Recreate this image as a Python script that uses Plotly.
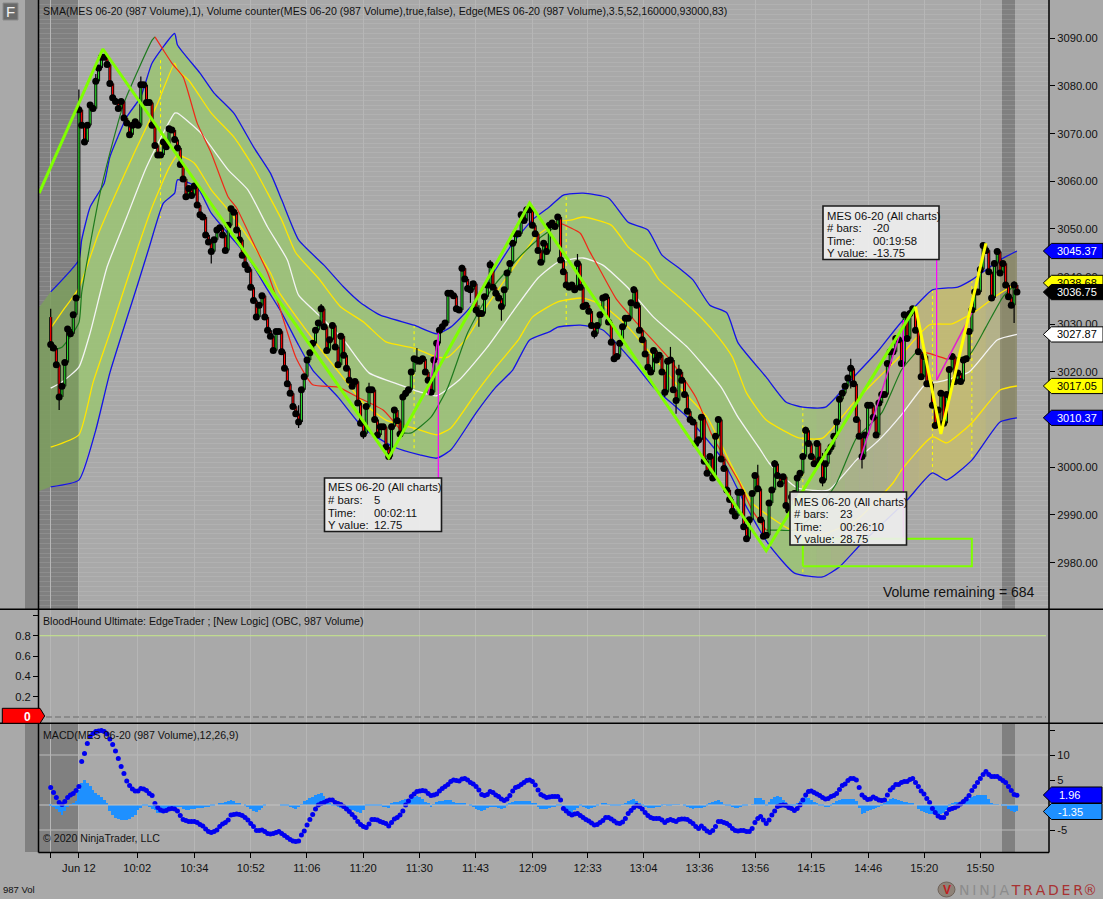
import numpy as np
import plotly.graph_objects as go

# ---------- bar data (volume bars, index 0..343) ----------
first_open = 3031.5
closes = [3025.75,3025,3021.5,3014.75,3017,3022,3029,3028,3032,3035.5,3075,3071.75,3068.25,3071.75,3076,3075.25,3081,3083.75,3086,3086,
3084.5,3080.5,3077.5,3076.75,3075.25,3076.75,3073.25,3072.25,3069.75,3071.75,3072.5,3071.75,3080.25,3080.25,3076.5,3076.5,3071.75,3067.5,3065.5,3065.5,
3068.25,3067.25,3071,3070.75,3068.75,3067,3063.5,3060.5,3056.75,3058.5,3057,3059,3055,3053,3052.5,3048.75,3047.25,3045.25,3047.75,3049.75,
3050.25,3048.75,3045.5,3050.75,3054.25,3053.5,3049.75,3047.75,3044.5,3042.5,3041.5,3037.75,3035,3031.5,3034,3036,3031.5,3028.75,3027.5,3024.5,
3028.5,3028.5,3024.25,3020.75,3017.5,3015.5,3012.75,3011.25,3009.5,3016.25,3019,3022.5,3024,3026,3028.75,3030.25,3033.25,3029.5,3024.5,3026.75,
3029.75,3025.25,3021.5,3027.5,3023.5,3020.75,3018.25,3017,3018,3013.5,3009.25,3007,3012.75,3016.25,3016.25,3010,3006.75,3008.5,3008.5,3004.25,
3002.25,3008.5,3012,3009.75,3007,3014.75,3015.5,3016.25,3020,3022.75,3022.5,3022.25,3022.75,3020,3018.25,3015.75,3022.5,3026,3028.75,3029.5,
3030.25,3036.5,3036.5,3036,3033.25,3033,3041.75,3039.5,3037.5,3037.25,3038.5,3033,3032.25,3032.25,3035.75,3038.25,3042.5,3037.75,3036.5,3035.5,
3033.75,3037.25,3040.75,3042.75,3047,3049,3049,3053,3051.75,3054,3054,3050.75,3049,3045.5,3043,3047,3045.25,3050.75,3051.25,3050.5,
3052.5,3043.5,3041,3038.25,3037.75,3038.25,3037.25,3042.75,3037.75,3033.75,3034,3032.75,3029.75,3028,3029.75,3032,3035.5,3035.75,3030.5,3026.25,
3022.75,3023.25,3026,3029.5,3031.25,3031.25,3034.5,3037.25,3034,3028.75,3026.75,3023.75,3021,3020,3024.5,3022.5,3023.5,3020,3015.75,3022.25,
3022.5,3016.25,3014,3020,3018.25,3015.25,3011.75,3010,3009.5,3005,3005.75,3010.5,3001.25,2998.75,3002.25,2997.75,3006.5,3010,3001.75,2999.75,
2995.25,2993.25,2990.75,2989.75,2994.75,2994.75,2987.5,2985,2989,2994.5,2998.25,2995.5,2989,2985.5,2985.75,2992.5,2995.25,3000.75,2998.25,2996.5,
2998,2992,2991,2993.75,2994.5,2997.75,2998.75,3002.25,3007.75,3005,3002.25,3000.75,3005,3001.5,2997.25,3000.75,3003.25,3004.25,3006.5,3009.5,
3014.25,3015.5,3017,3018.75,3020.75,3017.5,3010,3006.5,3002.25,3006.75,3013,3013,3010.5,3006.75,3013.5,3015.25,3015.25,3021.75,3024.25,3024.25,
3027,3026.75,3021.75,3032,3027,3032.25,3033.25,3028.75,3024.25,3019,3023.25,3017.5,3017.5,3013,3008.75,3012,3015.5,3009.25,3015.25,3020.5,
3023.25,3018,3019.75,3018,3022.5,3022.75,3028.5,3033,3036.75,3036.75,3041.5,3046.5,3045.5,3041,3035.5,3042.75,3045.25,3040.75,3042.75,3038.25,
3035.75,3034,3038.25,3036.75]
wick_bars = [0,3,10,16,32,57,88,96,111,113,130,146,149,152,156,160,170,187,193,207,218,220,222,223,237,251,257,268,274,284,288,316,331,336,342]
wick_highs = [3033.25,3017,3079.25,3082.5,3082,3047.75,3013,3034.25,3009,3017.75,3025,3042.5,3039,3034,3043.5,3036,3055.25,3044.75,3030,3038,3018,3025.25,3016,3021.5,3010.5,3000.5,3001.5,3008.5,3003,3022.75,3004,3012,3047,3045.6,3039]
wick_lows = [3024.5,3012,3035.5,3079,3071.5,3042.75,3008.25,3029.5,3006,3012.75,3021.5,3039,3034.5,3029.5,3037.5,3030.75,3050.75,3037.75,3027,3034,3014.75,3022,3011.25,3018,3006.5,2995,2998,3005,2996,3016.5,2999.75,3008.5,3041.5,3040.75,3030.25]

# ---------- band lines (bar index / price) ----------
blue_up_x = [0,10,11,14,19,21,27,32,36,44,45,53,58,65,72,78,82,88,97,104,110,117,129,137,142,149,156,164,171,177,182,189,198,205,212,217,223,228,234,240,244,254,261,267,275,285,294,301,313,322,327,337,343]
blue_up_y = [3036.8,3043.5,3047.7,3054.6,3059.6,3065.1,3073.5,3077.7,3084.8,3091,3088.6,3082.7,3078.5,3074.3,3067.2,3061.7,3056.1,3047.7,3042.4,3037.8,3034.5,3031.9,3029.8,3028,3029.4,3033.6,3039.7,3047,3051.9,3054.6,3057.1,3057.5,3056.5,3051.4,3049.8,3044.5,3041.8,3039.3,3034,3032.4,3026.1,3018.9,3013.7,3012.6,3012.6,3018.9,3024.6,3029.8,3037.2,3037.8,3039.3,3043.5,3045.37]
yel_up_x = [0,4,10,17,29,38,44,45,49,57,65,72,77,82,87,95,103,111,119,129,137,141,148,155,163,170,172,180,185,189,199,205,212,216,223,231,237,242,247,254,263,266,274,285,293,302,312,320,329,336,343]
yel_up_y = [3029.2,3032.6,3037.6,3049.1,3065.1,3076.4,3084.8,3083.3,3081.2,3074.3,3069.3,3063,3057.5,3051.9,3045,3039.7,3033.6,3030.5,3026.3,3025,3023.1,3023.1,3027.3,3034,3040.8,3046.6,3048.3,3051.5,3051.9,3052.5,3050.8,3046.2,3042.9,3039.3,3035.7,3031.3,3027.3,3023.1,3015.6,3009.9,3006.8,3006.1,3006.1,3013.5,3018.3,3023.6,3029.9,3030.1,3033,3036.1,3038.68]
white_x = [0,4,10,14,20,27,34,44,45,53,63,70,77,84,88,96,104,113,122,131,137,145,155,164,173,180,189,196,205,214,226,238,244,252,255,265,276,286,294,302,311,315,326,336,343]
white_y = [3016.6,3017.9,3021,3028.2,3042,3052.5,3063,3074.3,3074.3,3070.3,3062.4,3058.2,3050.4,3043.5,3036.1,3031.5,3026.7,3019.8,3017.7,3015.8,3015,3018.3,3025.2,3032.6,3039.7,3043,3043.9,3042.4,3037.6,3031.5,3025.2,3016.8,3010.5,3003.6,3000.9,2995.7,2995.2,3001.5,3005.7,3011,3017.7,3017.9,3020,3026.7,3027.87]
yel_lo_x = [0,10,15,21,31,36,42,45,51,57,63,70,78,81,88,96,103,111,119,129,137,142,151,158,166,171,180,189,196,205,214,224,233,242,249,263,273,286,299,302,313,318,327,337,343]
yel_lo_y = [3004.2,3006.8,3017.7,3028.2,3046.2,3054.6,3062.8,3065.5,3063.8,3058.2,3054,3048.3,3040.8,3036.8,3030.9,3024.6,3019.4,3013.5,3009.9,3008.2,3006.8,3008.2,3015.6,3021,3026.7,3031.5,3034.7,3035.5,3034,3029.4,3023.1,3016.2,3010.5,3000,2992.5,2986.8,2985.8,2988.9,2996.7,2999.4,3006.4,3005.1,3009.3,3016.2,3017.05]
blue_lo_x = [0,10,16,21,31,35,40,44,45,52,57,64,70,77,82,88,93,102,111,122,131,137,142,151,158,164,170,177,180,188,196,207,214,226,238,247,255,264,274,280,288,304,313,318,327,337,343]
blue_lo_y = [2995.9,2997.3,3007.8,3019.8,3038.6,3046.2,3055.4,3057.5,3060.3,3058.8,3053.3,3048.3,3044.1,3037.2,3032.4,3025.6,3020.4,3014.7,3008.2,3004.2,3002.6,3001.9,3003.6,3011.4,3016.8,3020.4,3026.7,3028.4,3029.4,3029.8,3028.8,3021.9,3016.8,3010.5,3002.1,2991.7,2983.7,2977.8,2977,2979.1,2984.1,2993.1,2998.8,2997.3,3001.5,3009.5,3010.37]

# trend line: (dark green while rising, red while falling)
trend_green_x = [[0,4,10,11,17,21,26,31,36,37],[125,128,135,141,148,157,167,174,181],[254,259,264,271,279,286,295,302,307],[318,326,332,338,343]]
trend_green_y = [[3024.6,3025.2,3030.3,3036.6,3056.1,3065.9,3076.4,3083.3,3089.6,3090.3],[3007.2,3007.2,3010.5,3016.8,3028.2,3037.8,3044.5,3048.3,3051.2],[2986.8,2986.8,2986.8,2990,2996.7,3006.1,3011.4,3020.4,3024],[3022.7,3023.5,3029.4,3035.7,3038.7]]
trend_red_x = [[37,40,43,47,52,57,63,66,72,77,81,87,93,102,109,118,125],[181,188,191,195,201,208,220,229,235,244,249,254],[307,311,318]]
trend_red_y = [[3090.3,3087.5,3084.8,3081.9,3072.2,3065.9,3056.7,3054.4,3047,3040.8,3034,3023.1,3017.3,3016.8,3014.7,3012,3007.2],[3051.2,3049.1,3045.6,3041.4,3035.1,3030.3,3022.5,3014.7,3006.4,2997.3,2991,2986.8],[3024,3024,3022.7]]

# zigzags
zig_lime_x = [-4.1,18.5,120,170,254,307]
zig_lime_y = [3057.5,3087.75,3002,3055.4,2982.5,3033.7]
zig_yellow_x = [307,316,332]
zig_yellow_y = [3033.7,3007,3047]
magenta_x = [[134,137.6],[287.3,302.7],[314.5,327]]
magenta_y = [[3015.2,3027.3],[3001.5,3030.3],[3018.3,3032.4]]
vert_mag_x = [137.6,302.7,314.5]
vert_mag_top = [3028.2,3030.9,3043.5]
vert_mag_bot = [2997.3,2984.7,3018.3]
vert_dot_x = [39,129,183,267,313,327]
vert_dot_top = [3085.4,3029.8,3056.7,3012.6,3037.2,3039.3]
vert_dot_bot = [3052.3,3003.3,3029.4,2977.8,2998.8,3002.2]
rect_x = [267,327]
rect_y = [2979.25,2985]

# band fill colour regimes
fill_from = [-4.2,10,267,272,277,282,287,292,297,303,308,313,327,332,337]
fill_to   = [10,267,272,277,282,287,292,297,303,308,313,327,332,337,343]
fill_col  = ['rgba(124,157,94,.88)','rgba(155,195,116,.88)','rgba(158,190,120,.88)','rgba(161,185,124,.88)','rgba(164,181,128,.88)','rgba(167,178,132,.88)',
             'rgba(170,176,134,.88)','rgba(172,175,136,.88)','rgba(175,175,136,.88)','rgba(182,176,128,.88)','rgba(188,180,120,.88)','rgba(196,187,110,.88)',
             'rgba(188,182,122,.88)','rgba(180,178,132,.88)','rgba(140,138,105,.88)']
fill_left_up = 3033.5
fill_left_lo = 2995

# MACD pane
macd = [3.5,2.5,1.5,.5,.1,.7,1.5,2,2.3,2.9,3.7,8.7,10.3,12.3,13.7,14.3,14.7,14.8,14.9,14.7,14.2,13.2,12.1,10.8,9.3,7.7,6.3,4.8,3.9,3.2,2.8,2.8,3.3,3.2,2.9,2.3,1.9,.3,-.5,-1,
-1.2,-1.1,-.8,-.7,-.8,-1.2,-2.1,-2.9,-3.1,-3.3,-3.3,-3.3,-3.5,-3.9,-4.2,-4.8,-5.3,-5.5,-5.3,-5,-4.3,-3.8,-3.5,-3,-2,-1.9,-1.8,-1.9,-2.1,-2.5,-3,-3.7,-4.3,-5.1,-5.1,-5,-5.3,-5.7,-5.8,-5.7,
-5.5,-5.3,-5.7,-6.1,-6.5,-6.9,-7.2,-7.3,-7.2,-6,-5.2,-4,-2.9,-1.9,-.8,0,.3,.5,.8,1,1,.5,.3,.1,-.3,-.8,-1.3,-1.9,-2.5,-3.3,-3.9,-4.3,-4.5,-3.8,-2.9,-2.9,-3,-3.3,-3.5,-3.7,
-4.2,-3.5,-2.8,-2.5,-2,-1.2,0,.8,1.7,2.2,2.7,2.8,2.9,2.8,2.3,1.9,2,2.2,2.8,3.3,3.7,4.1,4.7,5,4.9,4.8,5.2,5.3,5,4.5,4.2,3.7,3,2.1,1.9,2.1,2.7,2.5,2,1.7,
1.2,.9,1.2,1.9,2.8,3.5,3.7,4.1,4.5,4.9,5,4.7,4,3,2.1,1.8,1.5,1.6,1.7,1.7,1.7,1,-.7,-1.2,-1.7,-2,-1.8,-1.7,-2.1,-2.5,-2.9,-3.2,-3.6,-4,-3.9,-3.5,-3.1,-2.5,-2.5,-2.8,
-3.2,-3.6,-3.7,-3.4,-2.7,-1.7,-1.1,-.5,-.1,-.3,-.8,-1.5,-2.1,-2.5,-2.7,-2.7,-2.7,-3,-3.5,-3.1,-2.9,-3.1,-3.3,-2.9,-2.8,-2.8,-2.9,-3.3,-3.7,-4.3,-4.7,-4.2,-4.7,-5.2,-5.5,-5.1,-4.3,-3.3,-3.3,-3.5,
-3.7,-4.1,-4.7,-5.1,-5.2,-5.1,-5.1,-5.3,-5.3,-4.7,-3.5,-2.7,-2.3,-3,-3.7,-3,-2,-1.2,-.3,-.1,0,-.1,-.5,-.7,-1.1,-.7,0,1,2,2.7,2.8,2.5,2.2,1.9,1.5,1.2,1.3,1.7,1.9,2.3,
3.1,3.9,4.2,4.9,5.3,5.3,5,3.5,2,1.5,1.1,1.2,1.6,1.3,1,.9,1,2,3,3.5,4.1,4.1,4.5,4.7,4.7,5.1,5.3,4.5,3.7,2.8,2.2,1.3,.5,-.7,-1.5,-2.2,-2.5,-2.5,-1.7,-.9,-.7,-.5,
-.2,.2,.7,1.2,1.9,2.9,3.7,4.5,5.3,6.1,6.7,6.1,5.7,5.7,5.7,5.3,4.9,4.5,3.7,2.9,2.1,1.96]
macd_diff = [-.2,-.5,-.9,-1.5,-2,-1.3,-.5,.1,.4,.7,3,4.4,4.9,4.4,3.7,3,2.3,1.9,1.5,.9,.3,-1.2,-2.1,-2.6,-2.9,-3,-3.1,-3.1,-2.9,-2.5,-2.1,-1.1,-.6,-.2,-.1,-.4,-.8,-1.1,-1.7,-1.6,
-1.1,-.8,-.6,-.5,-.5,-.5,-.5,-.9,-1.1,-1,-.9,-.8,-.7,-.7,-.6,-.5,-.4,-.3,-.2,0,.2,.3,.5,.7,.9,.7,.4,.2,0,-.1,-.4,-.8,-1.2,-1.5,-1.1,-.6,-.2,0,0,0,
0,0,-.1,-.2,-.3,-.5,-.7,-.8,-.4,.1,.7,1,1.3,1.6,1.9,2.2,2.3,1.7,.9,.4,-.1,-.3,-.5,-.6,-.6,-.7,-.8,-1,-1.2,-1.4,-1.6,-1,-.2,-.1,-.1,-.2,-.3,-.3,-.4,-.5,
-.7,.3,.5,.6,.8,1,1.1,1.2,1.4,1.6,1.7,1.5,1.1,.6,.2,-.5,.1,.5,.7,.8,.9,.9,.9,.5,.2,.3,.4,.3,0,-.1,-.4,-.8,-1.1,-1.3,-1,-.7,-.5,-.5,-.5,-.6,
-.8,-.6,-.2,.2,.5,.7,.7,.7,.7,.7,.7,.4,.2,-.5,-.8,-.9,-.8,-.7,-.5,-.4,-.2,-.1,-.6,-1.1,-1.4,-1.6,-1.1,-.6,-.3,-.5,-.7,-.8,-.7,-.5,-.3,0,.2,.4,.1,-.3,
-.3,-.3,-.3,.1,.4,.7,1,1.2,.7,.2,-.2,-.5,-.7,-.6,-.6,-.5,-.5,-.3,.1,-.2,-.1,.1,.1,.1,0,-.1,-.4,-.6,-.8,-.7,-.7,-.6,-.5,-.3,.2,.5,.8,.9,.5,.1,
-.1,-.3,-.5,-.7,-.6,-.4,-.3,-.2,0,.1,1.3,1.3,1.3,1,-.1,.5,1.1,1.6,1.7,1.6,1,.5,-.1,-.2,-.3,.2,.8,1.2,1.5,1.3,.9,.5,.2,-.1,-.3,-.4,-.5,-.3,.2,.7,
1,1.2,1.2,1.2,1.2,1.2,.7,-.6,-1.8,-1.7,-1.3,-1,-.8,-.7,-.5,-.2,.3,.7,1.2,1.3,1.2,.9,.7,.5,.5,.4,.3,0,-.8,-1.2,-1.4,-1.6,-1.8,-1.9,-2.1,-2,-1.9,-1.6,-1.1,-.3,
.4,.5,.6,.5,.5,.8,1.2,1.6,1.8,1.9,2,2,1.9,1.2,.4,.1,.1,0,-.1,-.3,-.8,-1.3,-1.4,-1.35]

# axes
tick_bars = [0,10,30.7,51,71,90.9,110.9,130.9,150.8,171.1,190.6,210.4,230.3,250.1,270,290.2,310.1,330]
tick_labels = ['','Jun 12','10:02','10:34','10:52','11:06','11:20','11:30','11:43','12:09','12:33','13:04','13:36','13:56','14:15','14:46','15:20','15:50']
price_ticks = [3090,3080,3070,3060,3050,3040,3030,3020,3010,3000,2990,2980]
hound_ticks = [1.0,0.8,0.6,0.4,0.2,0.0]
hound_labels = ['','0.8','0.6','0.4','0.2','']
macd_ticks = [15,10,5,-5]
macd_labels = ['','10','5','-5']

# price flags on the right
flag_prices = [3045.37,3038.68,3036.75,3027.87,3017.05,3010.37]
flag_fill = ['#0000FF','#FFFF00','#000000','#FFFFFF','#FFFF00','#0000FF']
flag_text = ['#FFFFFF','#000000','#FFFFFF','#000000','#000000','#FFFFFF']
macd_flags = [1.96,-1.35]
macd_flag_y = [795,811.5]

# tooltips
tip_rows = [('# bars:','Time:','Y value:')]
tip_bars = ['5','23','-20']
tip_time = ['00:02:11','00:26:10','00:19:58']
tip_yval = ['12.75','28.75','-13.75']

# ---------- geometry ----------
W, H = 1103, 899
L, R = 39, 1049
BG = '#A9A9A9'
HEAD = 10.6
TIP = 11.3
TICK = 11.2
def px(x): return x / W
def py(y): return 1 - y / H
def price_y(p): return (3098.03 - p) / 0.2098

fig = go.Figure()

def add_line(x, y, color, width, dash=None, axis=('x', 'y'), smooth=False):
    ln = dict(color=color, width=width, dash=dash)
    if smooth:
        ln.update(shape='spline', smoothing=0.5)
    fig.add_trace(go.Scatter(x=x, y=y, mode='lines', xaxis=axis[0], yaxis=axis[1], hoverinfo='skip', line=ln))

# band fills
up_i = [-4.2] + blue_up_x
up_p = [fill_left_up] + blue_up_y
lo_i = [-4.2] + blue_lo_x
lo_p = [fill_left_lo] + blue_lo_y
for a, b, c in zip(fill_from, fill_to, fill_col):
    ui = [v for v in up_i if a < v < b]
    li = [v for v in lo_i if a < v < b]
    xs = [a] + ui + [b, b] + li[::-1] + [a]
    ys = [float(np.interp(a, up_i, up_p))] + [float(np.interp(v, up_i, up_p)) for v in ui] + [float(np.interp(b, up_i, up_p)),
          float(np.interp(b, lo_i, lo_p))] + [float(np.interp(v, lo_i, lo_p)) for v in li[::-1]] + [float(np.interp(a, lo_i, lo_p))]
    fig.add_trace(go.Scatter(x=xs, y=ys, mode='none', fill='toself', fillcolor=c, hoverinfo='skip'))

# dotted verticals
for x, t, b in zip(vert_dot_x, vert_dot_top, vert_dot_bot):
    add_line([x, x], [t, b], '#FFFF00', 1, 'dot')

# band lines
add_line(blue_up_x, blue_up_y, '#1414E6', 1.3, smooth=True)
add_line(yel_up_x, yel_up_y, '#FFE600', 1.3, smooth=True)
add_line(white_x, white_y, '#F4F4F4', 1.3, smooth=True)
add_line(yel_lo_x, yel_lo_y, '#FFE600', 1.3, smooth=True)
add_line(blue_lo_x, blue_lo_y, '#1414E6', 1.3, smooth=True)
for x, y in zip(trend_green_x, trend_green_y):
    add_line(x, y, '#1E7A1E', 1.2, smooth=True)
for x, y in zip(trend_red_x, trend_red_y):
    add_line(x, y, '#F02818', 1.2, smooth=True)

# bars
opens = [first_open] + closes[:-1]
bar_ids = list(range(len(closes)))
highs = [max(o, c) for o, c in zip(opens, closes)]
lows = [min(o, c) for o, c in zip(opens, closes)]
for b, h, l in zip(wick_bars, wick_highs, wick_lows):
    highs[b], lows[b] = max(highs[b], h), min(lows[b], l)
wx, wy, bx, by, gx, gy, rx, ry = [], [], [], [], [], [], [], []
for i, o, c, h, l in zip(bar_ids, opens, closes, highs, lows):
    wx += [i, i, None]; wy += [l, h, None]
    bx += [i, i, None]; by += [o, c, None]
    if c >= o:
        gx += [i, i, None]; gy += [o, c, None]
    else:
        rx += [i, i, None]; ry += [o, c, None]
add_line(wx, wy, '#000000', 1.2)
add_line(bx, by, '#000000', 3)
add_line(gx, gy, '#2BD62B', 1.2)
add_line(rx, ry, '#FF0000', 1.2)
fig.add_trace(go.Scatter(x=bar_ids, y=closes, mode='markers', hoverinfo='skip',
                         marker=dict(color='#000000', size=7, line=dict(width=0))))

# magenta verticals and zigzags
for x, t, b in zip(vert_mag_x, vert_mag_top, vert_mag_bot):
    add_line([x, x], [t, b], '#FF00FF', 1.2)
for x, y in zip(magenta_x, magenta_y):
    add_line(x, y, '#E020D0', 1.5)
add_line(zig_lime_x, zig_lime_y, '#7FFF00', 3)
add_line(zig_yellow_x, zig_yellow_y, '#FFFF00', 3)
add_line([rect_x[0], rect_x[1], rect_x[1], rect_x[0], rect_x[0]], [rect_y[0], rect_y[0], rect_y[1], rect_y[1], rect_y[0]], '#7FFF00', 2)

# MACD pane
m_ids = list(range(len(macd)))
fig.add_trace(go.Bar(x=list(range(len(macd_diff))), y=macd_diff, xaxis='x3', yaxis='y3', width=1,
                     marker=dict(color='#1E90FF', line=dict(width=0)), hoverinfo='skip'))
fig.add_trace(go.Scatter(x=m_ids, y=macd, mode='markers', xaxis='x3', yaxis='y3', hoverinfo='skip',
                         marker=dict(color='#0000F0', size=5, line=dict(width=0))))

# ---------- decorations ----------
shapes, notes = [], []
def rect(x0, y0, x1, y1, fill, line=None, lw=1, layer='below'):
    shapes.append(dict(type='rect', xref='paper', yref='paper', x0=px(x0), x1=px(x1), y0=py(y0), y1=py(y1),
                       fillcolor=fill, line=dict(color=line or fill, width=lw if line else 0), layer=layer))
def seg(x0, y0, x1, y1, color='#000000', w=1.5, dash=None, layer='above'):
    shapes.append(dict(type='line', xref='paper', yref='paper', x0=px(x0), x1=px(x1), y0=py(y0), y1=py(y1),
                       line=dict(color=color, width=w, dash=dash), layer=layer))
def text(x, y, s, size=12, color='#111111', anchor='left', family='Liberation Sans', bold=False):
    notes.append(dict(xref='paper', yref='paper', x=px(x), y=py(y), text=('<b>%s</b>' % s) if bold else s, showarrow=False,
                      xanchor=anchor, yanchor='middle', align=anchor, font=dict(family=family, size=size, color=color),
                      borderpad=0, borderwidth=0))
def flag(x_tip, x_body, x_end, yc, half, fill, line='#000000'):
    y0, y1 = py(yc - half), py(yc + half)
    shapes.append(dict(type='path', xref='paper', yref='paper',
                       path='M %f,%f L %f,%f L %f,%f L %f,%f L %f,%f Z' % (px(x_tip), py(yc), px(x_body), y0, px(x_end), y0, px(x_end), y1, px(x_body), y1),
                       fillcolor=fill, line=dict(color=line, width=1), layer='above'))

# session shading
for yt, yb in ((0, 609), (724, 852)):
    rect(25, yt, 79, yb, '#808080')
    rect(1002, yt, 1015, yb, '#808080')

# MACD grid
for v in (10, -5):
    shapes.append(dict(type='line', xref='paper', yref='y3', x0=px(L), x1=px(R), y0=v, y1=v, line=dict(color='#BABABA', width=1), layer='below'))
shapes.append(dict(type='line', xref='paper', yref='y3', x0=px(L), x1=px(R), y0=0, y1=0, line=dict(color='#C4C4C4', width=1.2), layer='above'))
# hound lines
shapes.append(dict(type='line', xref='paper', yref='y2', x0=px(39), x1=px(1046), y0=0.8, y1=0.8, line=dict(color='#C6E88A', width=1), layer='above'))
shapes.append(dict(type='line', xref='paper', yref='y2', x0=px(46), x1=px(1046), y0=0, y1=0, line=dict(color='#808080', width=1.6, dash='6px,3px'), layer='above'))

# frame
seg(0, 609.3, W, 609.3); seg(0, 723.3, W, 723.3); seg(L - .5, 0, L - .5, 852.5); seg(R, 0, R, 852.5); seg(L - .5, 852.5, R, 852.5)

# F button
rect(3, 3, 18, 20, '#6A6A6A', '#8A8A8A', 1, 'above')
text(10.5, 11.5, 'F', 15, '#F2F2F2', 'center')

# titles
text(43, 11, 'SMA(MES 06-20 (987 Volume),1), Volume counter(MES 06-20 (987 Volume),true,false), Edge(MES 06-20 (987 Volume),3.5,52,160000,93000,83)', HEAD)
text(43, 621, 'BloodHound Ultimate: EdgeTrader ; [New Logic] (OBC, 987 Volume)', HEAD)
text(43, 735, 'MACD(MES 06-20 (987 Volume),12,26,9)', HEAD)
text(43, 838, '© 2020 NinjaTrader, LLC', HEAD)
text(1035, 592, 'Volume remaining = 684', 14, '#111111', 'right')
text(3, 889.5, '987 Vol', 9.5, '#111111')

# tooltips
tip_boxes = [(324.5, 478, 441.5, 531.5), (790, 492, 906.5, 545), (823, 206, 939, 259.5)]
for (x0, y0, x1, y1), b, t, v in zip(tip_boxes, tip_bars, tip_time, tip_yval):
    rect(x0, y0, x1, y1, 'rgba(240,240,240,0.9)', '#1A1A1A', 1.6, 'above')
    text(x0 + 3.5, y0 + 9.5, 'MES 06-20 (All charts)', TIP)
    for off, lab, val in zip((22.3, 35.4, 47.2), tip_rows[0], (b, t, v)):
        text(x0 + 3.5, y0 + off, lab, TIP)
        text(x0 + 49.5, y0 + off, val, TIP)

# right price flags
order = [1, 0, 2, 3, 4, 5]
for k in order:
    yc = price_y(flag_prices[k])
    flag(1043.3, 1051.5, 1103, yc, 7.6, flag_fill[k])
    text(1077, yc, '%.2f' % flag_prices[k], 11, flag_text[k], 'center')
flag(1043.3, 1051.5, 1102, macd_flag_y[0], 8, '#0000FF')
text(1069, macd_flag_y[0], '%.2f' % macd_flags[0], 11, '#FFFFFF', 'center')
flag(1043.3, 1051.5, 1102, macd_flag_y[1], 8, '#1E90FF')
text(1070, macd_flag_y[1], '%.2f' % macd_flags[1], 11, '#FFFFFF', 'center')

# left red flag
shapes.append(dict(type='path', xref='paper', yref='paper',
                   path='M %f,%f L %f,%f L %f,%f L %f,%f L %f,%f Z' % (px(44.7), py(716), px(40), py(708.3), px(2.3), py(708.3), px(2.3), py(723.3), px(40), py(723.3)),
                   fillcolor='#FF0000', line=dict(color='#000000', width=1), layer='above'))
text(27, 717, '0', 12, '#FFFFFF', 'center', bold=True)

# NinjaTrader logo
shapes.append(dict(type='circle', xref='paper', yref='paper', x0=px(938), x1=px(955), y0=py(882), y1=py(897),
                   fillcolor='#8E8277', line=dict(color='#6E6259', width=1), layer='above'))
text(946.5, 889.5, 'V', 12, '#C02020', 'center', bold=True)
thin = '\u2009'
logo_a = thin.join('NINJA')
logo_b = thin.join('TRADER')
text(959, 889.5, '<span style="color:#8C8C8C">%s</span>%s<span style="color:#A83232">%s®</span>' % (logo_a, thin, logo_b), 14, '#A83232', 'left', 'DejaVu Sans')

# ---------- layout ----------
x_range = [(L - 50.7) / 2.817, (R - 50.7) / 2.817]
x_common = dict(range=x_range, tickvals=tick_bars, ticktext=tick_labels, showgrid=True, gridcolor='#B6B6B6', gridwidth=1,
                zeroline=False, showline=False, domain=[px(L), px(R)], fixedrange=True)
tf = dict(size=TICK, color='#111111', family='Liberation Sans')
fig.update_layout(
    width=W, height=H, margin=dict(l=0, r=0, t=0, b=0), autosize=False, showlegend=False,
    paper_bgcolor=BG, plot_bgcolor=BG, bargap=0, hovermode=False,
    font=dict(family='Liberation Sans', size=12, color='#111111'),
    xaxis=dict(**x_common, anchor='y', showticklabels=False, ticks=''),
    xaxis2=dict(**x_common, anchor='y2', showticklabels=False, ticks=''),
    xaxis3=dict(**x_common, anchor='y3', ticks='outside', ticklen=5, tickwidth=1, tickcolor='#000000', tickfont=tf),
    yaxis=dict(domain=[py(609.3), 1], range=[3098.03 - 0.2098 * 609.3, 3098.03], side='right', anchor='x',
               tickvals=price_ticks, ticktext=['%.2f' % v for v in price_ticks], ticks='outside', ticklen=5, tickwidth=1, tickcolor='#000000',
               showgrid=False, zeroline=False, fixedrange=True,
               minor=dict(dtick=1, showgrid=True, gridcolor='rgba(255,255,255,0.1)', gridwidth=1, ticklen=0), tickfont=tf),
    yaxis2=dict(domain=[py(723.3), py(609.3)], range=[(717 - 723.3) / 101.6, (717 - 609.3) / 101.6], side='left', anchor='x2',
                tickvals=hound_ticks, ticktext=hound_labels, ticks='outside', ticklen=5, tickwidth=1, tickcolor='#000000',
                showgrid=False, zeroline=False, fixedrange=True, tickfont=tf),
    yaxis3=dict(domain=[py(852.3), py(723.3)], range=[(805 - 852.3) / 5, (805 - 723.3) / 5], side='right', anchor='x3',
                tickvals=macd_ticks, ticktext=macd_labels, ticks='outside', ticklen=5, tickwidth=1, tickcolor='#000000',
                showgrid=False, zeroline=False, fixedrange=True, tickfont=tf),
    shapes=shapes, annotations=notes,
)
fig.write_html('out.html', config=dict(displayModeBar=False), post_script="document.body.style.margin='0';document.body.style.overflow='hidden';")
